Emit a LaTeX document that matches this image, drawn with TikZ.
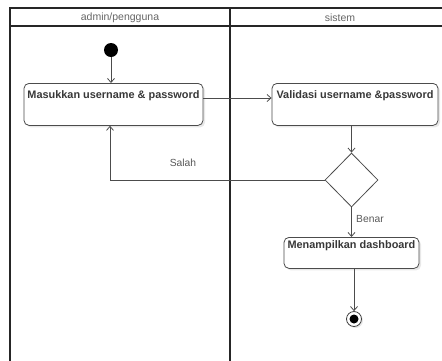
\documentclass[tikz,border=0pt]{standalone}
\usepackage{fontspec}
\setmainfont{Liberation Sans}
\usetikzlibrary{arrows.meta,shadows,shapes.geometric}
\begin{document}
\begin{tikzpicture}[x=1pt,y=-1pt,
  lane/.style={line width=1.3pt,draw=black!85},
  box/.style={draw=black!70,line width=0.8pt,rounded corners=5pt,fill=white,
    drop shadow={opacity=0.18,shadow xshift=2pt,shadow yshift=-2pt}},
  boxtext/.style={font=\fontsize{10.9}{13}\selectfont\bfseries,text=black!78,inner sep=0pt},
  flow/.style={draw=black!70,line width=0.8pt,-{Straight Barb[length=4pt,width=7pt]}},
  lbl/.style={font=\fontsize{10.3}{12}\selectfont,text=black!65,inner sep=0pt},
  head/.style={font=\fontsize{10.5}{12}\selectfont,text=black!60,inner sep=0pt}]
\useasboundingbox (0,0) rectangle (442,360);
\fill[white] (0,0) rectangle (442,360);

% swimlanes
\draw[lane] (444,8) -- (10,8) -- (10,362);
\draw[lane] (10,26) -- (444,26);
\draw[lane] (230,8) -- (230,362);
\node[head] (h1) at (120,17.5) {admin/pengguna};
\node[head] (h2) at (340,17.5) {sistem};

% start
\node[circle,fill=black,minimum size=14pt,inner sep=0pt] (start) at (111,50) {};

% activities
\node[box,minimum width=179pt,minimum height=42pt,anchor=north] (a1) at (113.5,83) {};
\node[boxtext] (t1) at ([yshift=-13]a1.north) {Masukkan username \& password};
\node[box,minimum width=166pt,minimum height=42pt,anchor=north] (a2) at (355,83) {};
\node[boxtext] (t2) at ([yshift=-13]a2.north) {Validasi username \&password};
\node[box,minimum width=135pt,minimum height=31pt,anchor=north] (a3) at (351.5,237) {};
\node[boxtext] (t3) at ([yshift=-9]a3.north) {Menampilkan dashboard};

% decision
\node[diamond,draw=black!70,line width=0.8pt,fill=white,minimum width=53pt,minimum height=54pt,inner sep=0pt] (d) at (351.5,180) {};

% end
\node[circle,draw=black!75,line width=0.8pt,fill=white,minimum size=15pt,inner sep=0pt,
  drop shadow={opacity=0.18,shadow xshift=1.5pt,shadow yshift=-1.5pt}] (end) at (354,319) {};
\node[circle,fill=black,minimum size=9pt,inner sep=0pt] (endin) at (end.center) {};

% flows
\draw[flow] (start) -- (start |- a1.north);
\draw[flow] (a1.east |- 0,98) -- (a2.west |- 0,98);
\draw[flow] (a2.south -| d.north) -- (d.north);
\draw[flow] (d.west) -- (110,180) coordinate (c1) -- (c1 |- a1.south);
\node[lbl] (salah) at (183,163) {Salah};
\draw[flow] (d.south) -- (d.south |- a3.north);
\node[lbl,anchor=west] (benar) at (356,219) {Benar};
\draw[flow] (a3.south -| end.north) -- (end.north);
\end{tikzpicture}
\end{document}
